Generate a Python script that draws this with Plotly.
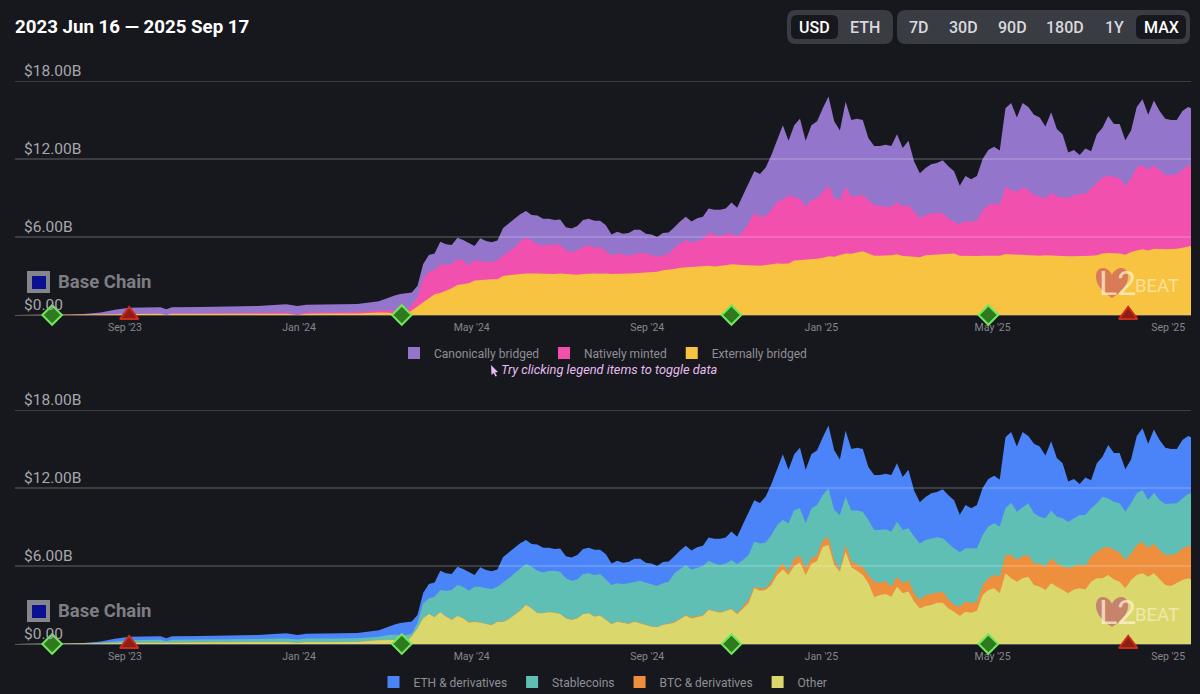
# L2BEAT style TVS charts for Base Chain, two stacked area panels
from datetime import date, timedelta
import plotly.graph_objects as go

W, H = 1200, 694
BG = "#17181d"
FONT = "Roboto"

# ---- data, $B, cumulative top of each band ----
start_day = date(2023, 6, 16)
end_day = date(2025, 9, 17)

early_days = [0, 40, 50, 60, 70, 80, 90, 102, 106, 110, 130, 150, 170, 190, 198, 204, 220, 240, 255, 262, 266]
late_days = list(range(270, 823, 4)) + [824]
days = early_days + late_days

total = [
    0, 0, 0.1, 0.2, 0.4, 0.55, 0.58, 0.6, 0.45, 0.6, 0.62, 0.65, 0.7, 0.82, 0.7, 0.78, 0.8, 0.85, 1.05, 1.36, 1.5,
    1.62, 1.67, 1.74, 2.23, 3.92, 4.62, 4.74, 5.64, 5.44, 5.38, 5.95, 5.77, 5.56, 5.31, 5.9, 5.7,
    5.6, 5.74, 6.7, 7.05, 7.4, 7.75, 8.0, 7.7, 7.65, 7.4, 7.4, 7.3, 7.35, 6.75, 6.65, 6.85,
    7.3, 7.4, 7.25, 7.25, 6.9, 6.2, 6.4, 6.25, 6.3, 6.55, 6.55, 6.25, 6.2, 6.0, 6.3, 6.35,
    6.75, 7.2, 7.55, 7.2, 7.45, 7.55, 8.2, 8.1, 8.1, 8.2, 8.65, 8.25, 9.2, 10.1, 11.05, 10.85,
    11.35, 12.3, 13.4, 14.6, 13.4, 14.6, 15.1, 13.4, 14.6, 14.9, 15.9, 16.8, 14.9, 14.2, 16.4, 15.0,
    15.1, 15.0, 13.6, 13.0, 13.0, 13.1, 13.0, 13.9, 12.85, 13.4, 11.8, 10.9, 11.3, 11.6, 11.7,
    11.9, 11.45, 11.05, 9.95, 10.7, 10.45, 10.7, 12.0, 12.7, 12.95, 12.65, 15.9, 16.3, 15.2, 16.3,
    16.0, 15.4, 15.2, 14.5, 15.6, 14.3, 13.9, 12.5, 12.7, 12.3, 12.8, 12.6, 13.9, 14.4, 15.3,
    14.7, 14.7, 13.45, 14.2, 16.0, 16.6, 15.4, 16.5, 15.7, 15.1, 15.0, 15.0, 15.7, 16.0, 15.9,
]

# top panel
natively_top = [
    0, 0, 0.02, 0.05, 0.08, 0.1, 0.11, 0.12, 0.02, 0.13, 0.14, 0.16, 0.18, 0.2, 0.05, 0.2, 0.22, 0.25, 0.35, 0.4, 0.35,
    0.35, 0.4, 0.75, 1.4, 2.8, 3.35, 3.45, 3.9, 3.85, 3.9, 4.3, 4.2, 3.85, 4.2, 4.15, 4.05,
    4.1, 4.2, 4.6, 4.9, 5.2, 5.65, 5.95, 5.75, 5.45, 5.35, 5.4, 5.45, 5.4, 5.0, 4.8, 5.0,
    5.25, 5.4, 5.15, 5.25, 4.95, 4.55, 4.75, 4.7, 4.55, 4.7, 4.8, 4.75, 4.6, 4.5, 4.6, 4.7,
    5.2, 5.5, 5.77, 5.56, 5.72, 5.82, 6.33, 6.15, 6.03, 6.23, 6.28, 6.03, 6.41, 7.05, 7.87, 7.56,
    7.62, 8.08, 8.72, 8.85, 9.23, 9.05, 8.97, 8.33, 8.85, 8.97, 9.49, 10.0, 8.97, 8.85, 9.87, 9.1,
    9.15, 9.23, 8.85, 8.46, 8.38, 8.33, 8.33, 8.72, 8.33, 8.46, 7.95, 7.44, 7.69, 7.82, 7.9,
    7.82, 7.44, 7.18, 7.0, 7.23, 7.18, 7.26, 8.08, 8.46, 8.59, 8.46, 9.87, 9.62, 9.49, 9.82,
    9.62, 9.23, 9.1, 8.97, 9.41, 9.1, 9.05, 8.97, 9.23, 9.31, 9.31, 9.74, 10.13, 10.59, 10.69,
    10.64, 10.51, 9.92, 10.51, 11.36, 11.54, 11.15, 11.54, 11.15, 10.77, 10.77, 10.85, 11.15, 11.54, 11.49,
]
externally_top = [
    0, 0, 0.01, 0.03, 0.05, 0.08, 0.09, 0.1, 0, 0.1, 0.1, 0.1, 0.1, 0.1, 0, 0.1, 0.11, 0.12, 0.2, 0.18, 0.1,
    0.05, 0.05, 0.35, 0.65, 1.0, 1.3, 1.6, 1.7, 1.85, 2.05, 2.3, 2.4, 2.45, 2.65, 2.7, 2.7,
    2.75, 2.75, 3.0, 3.05, 3.08, 3.15, 3.2, 3.22, 3.2, 3.18, 3.15, 3.15, 3.2, 3.15, 3.1, 3.1,
    3.15, 3.2, 3.2, 3.18, 3.2, 3.15, 3.15, 3.18, 3.2, 3.22, 3.25, 3.28, 3.3, 3.33, 3.45, 3.48,
    3.54, 3.64, 3.67, 3.69, 3.72, 3.77, 3.79, 3.74, 3.77, 3.82, 3.9, 3.85, 3.85, 3.82, 3.82, 3.79,
    3.85, 3.92, 3.97, 3.95, 3.97, 4.2, 4.23, 4.23, 4.3, 4.33, 4.41, 4.51, 4.49, 4.59, 4.74, 4.72,
    4.82, 4.9, 4.74, 4.56, 4.56, 4.56, 4.59, 4.67, 4.54, 4.51, 4.49, 4.44, 4.59, 4.62, 4.62,
    4.67, 4.69, 4.74, 4.56, 4.54, 4.51, 4.54, 4.56, 4.56, 4.56, 4.56, 4.69, 4.67, 4.62, 4.64,
    4.62, 4.59, 4.56, 4.59, 4.56, 4.54, 4.51, 4.51, 4.51, 4.51, 4.56, 4.56, 4.59, 4.74, 4.77,
    4.74, 4.74, 4.64, 4.85, 4.97, 5.05, 4.97, 5.1, 5.08, 5.05, 5.08, 5.1, 5.18, 5.28, 5.31,
]

# bottom panel
stablecoins_top = [
    0, 0, 0.05, 0.1, 0.2, 0.28, 0.3, 0.32, 0.22, 0.32, 0.34, 0.36, 0.38, 0.42, 0.35, 0.42, 0.42, 0.45, 0.55, 0.7, 0.72,
    0.7, 0.7, 0.8, 1.6, 3.13, 3.5, 3.64, 4.15, 4.1, 4.15, 4.54, 4.4, 4.1, 4.4, 4.4, 4.28,
    4.23, 4.4, 4.74, 5.05, 5.44, 5.82, 6.15, 5.95, 5.64, 5.5, 5.62, 5.64, 5.56, 5.05, 4.87, 4.97,
    5.38, 5.44, 5.3, 5.38, 4.92, 4.54, 4.67, 4.62, 4.67, 4.79, 4.87, 4.72, 4.62, 4.49, 4.67, 4.79,
    5.44, 5.74, 6.08, 5.74, 5.9, 6.0, 6.41, 6.2, 6.08, 6.2, 6.46, 6.15, 6.46, 6.85, 7.87, 7.74,
    7.8, 8.38, 9.15, 9.54, 9.28, 10.3, 10.44, 9.28, 10.44, 10.69, 11.46, 11.97, 10.3, 9.92, 11.33, 10.26,
    10.26, 10.18, 9.54, 8.77, 8.77, 8.82, 8.64, 9.41, 8.77, 8.9, 8.26, 7.74, 8.0, 8.13, 8.21,
    8.13, 7.74, 7.36, 7.05, 7.36, 7.36, 7.36, 8.38, 9.03, 9.28, 9.03, 10.44, 10.87, 10.18, 10.51,
    10.82, 10.05, 9.79, 9.67, 10.26, 9.79, 9.67, 9.41, 9.67, 9.92, 9.92, 10.44, 10.82, 11.33, 11.2,
    10.95, 10.82, 10.18, 10.82, 11.59, 11.85, 11.08, 11.64, 11.08, 10.77, 10.77, 10.82, 11.2, 11.54, 11.59,
]
btc_top = [
    0, 0, 0.02, 0.04, 0.07, 0.1, 0.11, 0.12, 0.06, 0.12, 0.13, 0.13, 0.14, 0.16, 0.1, 0.15, 0.16, 0.17, 0.3, 0.32, 0.32,
    0.08, 0.18, 0.63, 1.23, 2.0, 2.33, 2.08, 2.47, 2.13, 1.88, 2.18, 2.0, 1.67, 1.73, 1.67, 1.57,
    1.47, 1.73, 1.73, 1.93, 2.26, 2.59, 3.03, 2.77, 2.39, 2.39, 2.47, 2.43, 2.33, 2.0, 1.88, 2.0,
    2.31, 2.39, 2.13, 2.21, 1.88, 1.54, 1.75, 1.67, 1.57, 1.75, 1.63, 1.49, 1.36, 1.31, 1.49, 1.57,
    1.72, 1.97, 2.23, 2.05, 2.15, 2.23, 2.67, 2.54, 2.49, 2.56, 2.74, 2.36, 2.87, 3.38, 4.41, 4.28,
    4.28, 4.79, 5.74, 6.2, 5.56, 6.59, 6.77, 5.82, 6.59, 6.85, 8.0, 8.2, 6.46, 5.69, 7.62, 6.33,
    6.15, 5.9, 5.31, 4.79, 4.72, 4.85, 4.41, 5.18, 4.67, 4.92, 3.9, 3.38, 3.77, 3.85, 3.9,
    4.03, 3.44, 3.0, 2.87, 3.26, 3.13, 3.26, 4.54, 5.05, 5.31, 5.18, 6.85, 6.85, 6.46, 6.77,
    6.85, 6.2, 6.2, 5.95, 6.59, 6.2, 6.0, 5.82, 6.0, 6.13, 6.0, 6.72, 7.1, 7.36, 7.49,
    7.23, 7.03, 6.46, 6.97, 7.62, 7.87, 7.36, 7.74, 7.23, 6.85, 6.85, 6.97, 7.36, 7.54, 7.49,
]
other_top = [
    0, 0, 0.01, 0.03, 0.05, 0.08, 0.09, 0.1, 0.05, 0.1, 0.11, 0.11, 0.12, 0.14, 0.08, 0.13, 0.14, 0.15, 0.28, 0.3, 0.3,
    0.05, 0.15, 0.6, 1.2, 1.97, 2.3, 2.05, 2.44, 2.1, 1.85, 2.15, 1.97, 1.64, 1.7, 1.64, 1.54,
    1.44, 1.7, 1.7, 1.9, 2.23, 2.56, 3.0, 2.74, 2.36, 2.36, 2.44, 2.4, 2.3, 1.97, 1.85, 1.97,
    2.28, 2.36, 2.1, 2.18, 1.85, 1.51, 1.72, 1.64, 1.54, 1.72, 1.6, 1.46, 1.33, 1.28, 1.46, 1.54,
    1.64, 1.9, 2.18, 1.97, 2.1, 2.18, 2.62, 2.49, 2.41, 2.54, 2.67, 2.28, 2.74, 3.13, 4.28, 4.1,
    4.15, 4.54, 5.31, 5.74, 5.31, 6.0, 6.26, 5.31, 6.15, 6.38, 7.49, 7.62, 6.08, 5.56, 7.1, 5.9,
    5.64, 5.31, 4.67, 3.59, 3.77, 3.85, 3.64, 4.41, 3.9, 4.03, 3.26, 2.74, 2.92, 3.0, 3.18,
    3.18, 2.74, 2.49, 2.15, 2.49, 2.41, 2.56, 3.77, 4.15, 4.28, 3.9, 5.44, 5.05, 4.79, 5.05,
    5.18, 4.54, 4.41, 4.15, 4.67, 4.41, 4.15, 3.9, 4.2, 4.28, 4.2, 4.79, 5.05, 5.05, 5.31,
    4.97, 4.79, 4.28, 4.92, 5.31, 5.44, 5.18, 5.44, 4.97, 4.54, 4.46, 4.67, 4.92, 5.05, 4.97,
]

y_ticks = [0, 6, 12, 18]
y_tick_labels = ["$0.00", "$6.00B", "$12.00B", "$18.00B"]
x_ticks = ["2023-09-01", "2024-01-01", "2024-05-01", "2024-09-01", "2025-01-01", "2025-05-01", "2025-09-01"]
x_tick_labels = ["Sep '23", "Jan '24", "May '24", "Sep '24", "Jan '25", "May '25", "Sep '25"]

good_updates = ["2023-07-12", "2024-03-13", "2024-10-30", "2025-04-28"]
bad_updates = ["2023-09-04", "2025-08-04"]

top_series = [("Canonically bridged", total, "#9376cc"),
              ("Natively minted", natively_top, "#f150ae"),
              ("Externally bridged", externally_top, "#f7c340")]
bottom_series = [("ETH & derivatives", total, "#4a84f8"),
                 ("Stablecoins", stablecoins_top, "#5fbfb4"),
                 ("BTC & derivatives", btc_top, "#ee8f3e"),
                 ("Other", other_top, "#dad86c")]

dates = [start_day + timedelta(days=d) for d in days]


# pixel to paper helpers for the page furniture
def px(x):
    return x / W


def py(y):
    return 1 - y / H


def round_rect(x0, y0, x1, y1, r, color):
    p = (f"M {px(x0 + r)} {py(y0)} L {px(x1 - r)} {py(y0)} Q {px(x1)} {py(y0)} {px(x1)} {py(y0 + r)} "
         f"L {px(x1)} {py(y1 - r)} Q {px(x1)} {py(y1)} {px(x1 - r)} {py(y1)} "
         f"L {px(x0 + r)} {py(y1)} Q {px(x0)} {py(y1)} {px(x0)} {py(y1 - r)} "
         f"L {px(x0)} {py(y0 + r)} Q {px(x0)} {py(y0)} {px(x0 + r)} {py(y0)} Z")
    return dict(type="path", xref="paper", yref="paper", path=p, fillcolor=color, line_width=0, layer="above")


def rect(x0, y0, x1, y1, color):
    return dict(type="rect", xref="paper", yref="paper", x0=px(x0), x1=px(x1), y0=py(y0), y1=py(y1),
                fillcolor=color, line_width=0, layer="above")


def heart(dy, color):
    segs = [[(1108, 266), (1096, 265), (1096, 277)], [(1096, 287), (1106, 294), (1112, 298)],
            [(1118, 294), (1128, 287), (1128, 277)], [(1128, 265), (1116, 266), (1112, 275)]]
    p = f"M {px(1112)} {py(275 + dy)} "
    for seg in segs:
        p += "C " + " ".join(f"{px(a)} {py(b + dy)}" for a, b in seg) + " "
    return dict(type="path", xref="paper", yref="paper", path=p + "Z", fillcolor=color, line_width=0, layer="above")


def text(x, y, s, size, color, anchor="center", **kw):
    return dict(xref="paper", yref="paper", x=px(x), y=py(y), text=s, showarrow=False, xanchor=anchor,
                yanchor="middle", font=dict(family=kw.pop("family", FONT), size=size, color=color, **kw))


fig = go.Figure()

panels = [(top_series, "x", "y", "legend"), (bottom_series, "x2", "y2", "legend2")]
for series, xa, ya, leg in panels:
    for name, values, color in series:
        fig.add_trace(go.Scatter(x=dates, y=values, mode="lines", name=name, xaxis=xa, yaxis=ya,
                                 line=dict(width=0, color=color), fill="tozeroy", fillcolor=color,
                                 legendgroup=name + leg, showlegend=False))
        # small square swatch for the legend
        fig.add_trace(go.Scatter(x=[None], y=[None], mode="markers", name=name, xaxis=xa, yaxis=ya,
                                 marker=dict(symbol="square", size=12, color=color),
                                 legendgroup=name + leg, legend=leg))
    fig.add_trace(go.Scatter(x=good_updates, y=[0] * len(good_updates), mode="markers", xaxis=xa, yaxis=ya,
                             marker=dict(symbol="diamond", size=15, color="#2f7a1f",
                                         line=dict(color="#6fe85c", width=2)),
                             cliponaxis=False, showlegend=False, name="Upgrade"))
    fig.add_trace(go.Scatter(x=bad_updates, y=[0] * len(bad_updates), mode="markers", xaxis=xa, yaxis=ya,
                             marker=dict(symbol="triangle-up", size=16, color="#8f1f14",
                                         line=dict(color="#c92c1c", width=2)),
                             cliponaxis=False, showlegend=False, name="Incident"))

x_style = dict(range=[start_day.isoformat(), end_day.isoformat()], tickvals=x_ticks, ticktext=x_tick_labels,
               domain=[15 / W, 1191 / W], showgrid=False, zeroline=False, showline=True, linecolor="#55565b",
               linewidth=1, ticks="", ticklabelstandoff=2, tickfont=dict(family=FONT, size=10.5, color="#85868c"),
               layer="below traces")
y_style = dict(range=[0, 18], tickvals=y_ticks, showticklabels=False, showgrid=False, zeroline=False, ticks="",
               anchor="free", position=15 / W)

shapes = []
annotations = []

# gridlines run over the areas, value labels sit just above them
for yref in ("y", "y2"):
    for v, label in zip(y_ticks, y_tick_labels):
        if v:
            shapes.append(dict(type="line", xref="paper", x0=15 / W, x1=1191 / W, yref=yref, y0=v, y1=v,
                               line=dict(color="rgba(255,255,255,0.32)", width=1), layer="above"))
        annotations.append(dict(xref="paper", yref=yref, x=22 / W, y=v, yshift=10, text=label, showarrow=False,
                                xanchor="left", yanchor="middle",
                                font=dict(family=FONT, size=15.5, color="#a6a7ac")))

# header
annotations.append(text(12.5, 27, "2023 Jun 16 — 2025 Sep 17", 18.7, "#ffffff", "left", weight=700))
shapes += [round_rect(787, 10, 893, 44, 9, "#3a3c43"), round_rect(897, 10, 1190, 44, 9, "#3a3c43"),
           round_rect(791, 15, 838, 39, 6, BG), round_rect(1136, 15, 1186, 39, 6, BG)]
for label, cx, on in [("USD", 814, True), ("ETH", 865, False), ("7D", 919, False), ("30D", 963, False),
                      ("90D", 1012, False), ("180D", 1065, False), ("1Y", 1114, False), ("MAX", 1161, True)]:
    annotations.append(text(cx, 27, label, 16, "#ffffff" if on else "#d9d9de", weight=500))

# watermarks, second panel sits 329px lower
for dy, heart_color in [(0, "rgba(205,95,95,0.72)"), (329, "rgba(190,100,110,0.72)")]:
    shapes += [rect(27, 271 + dy, 50, 293 + dy, "#85868b"), rect(32, 276 + dy, 46, 289 + dy, "#0b0f92"),
               heart(dy, heart_color)]
    annotations.append(text(55.5, 282 + dy, "Base Chain", 18.5, "#7d7e83", "left", weight=700))
    annotations.append(text(1097, 283 + dy, "L2", 34, "rgba(255,244,214,0.72)", "left"))
    annotations.append(text(1133, 286 + dy, "BEAT", 18.5, "rgba(255,244,214,0.62)", "left"))

# hint under the first legend
annotations.append(text(499, 369, "<i>Try clicking legend items to toggle data</i>", 12.8, "#e6bdf0", "left"))
cursor = [(491, 365), (498, 372), (495, 372.5), (497, 376), (495.5, 376.5), (493.5, 373), (491.5, 375)]
shapes.append(dict(type="path", xref="paper", yref="paper", fillcolor="#e6bdf0", line_width=0,
                   path="M " + " L ".join(f"{px(a)} {py(b)}" for a, b in cursor) + " Z"))

legend_style = dict(orientation="h", xanchor="center", yanchor="middle", bgcolor="rgba(0,0,0,0)",
                    font=dict(family=FONT, size=12, color="#8e8f95"), itemclick="toggle")

fig.update_layout(
    width=W, height=H, margin=dict(l=0, r=0, t=0, b=0, autoexpand=False), paper_bgcolor=BG, plot_bgcolor=BG,
    font=dict(family=FONT), hovermode=False,
    xaxis=dict(x_style, anchor="y"),
    yaxis=dict(y_style, domain=[1 - 315 / H, 1 - 81 / H]),
    xaxis2=dict(x_style, anchor="y2"),
    yaxis2=dict(y_style, domain=[1 - 644 / H, 1 - 410 / H]),
    legend=dict(legend_style, x=603 / W, y=py(353)),
    legend2=dict(legend_style, x=603 / W, y=py(682)),
    shapes=shapes, annotations=annotations,
)

# page margin off so the figure fills the window, no toolbar in the picture
fig.write_html("out.html", config={"displayModeBar": False},
               post_script="document.body.style.margin='0';document.body.style.overflow='hidden';")
